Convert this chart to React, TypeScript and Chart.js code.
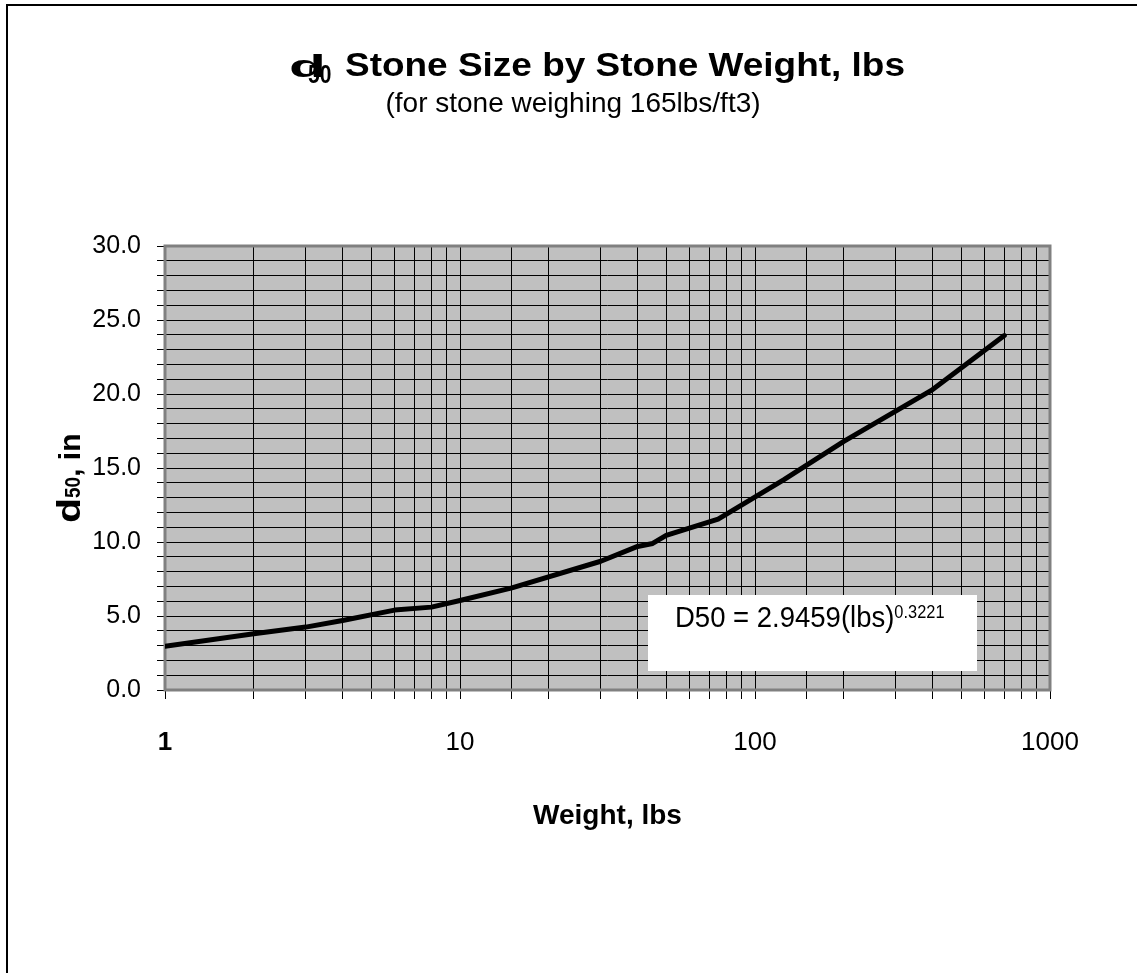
import React, { useEffect, useRef } from "react";
import { Chart, registerables } from "chart.js";

Chart.register(...registerables);

const weights: number[] = [1, 2, 3, 4, 6, 8, 10, 15, 30, 40, 45, 50, 75, 125, 200, 400, 700];
const d50Values: number[] = [2.95, 3.8, 4.25, 4.7, 5.4, 5.6, 6.05, 6.9, 8.7, 9.7, 9.9, 10.45, 11.55, 14.2, 16.8, 20.3, 23.95];
const xTickLabels: number[] = [1, 10, 100, 1000];
const yLabelEvery = 5;

const titleMain = "Stone Size by Stone Weight, lbs";
const subtitle = "(for stone weighing 165lbs/ft3)";
const xTitle = "Weight, lbs";
const equationText = "D50 = 2.9459(lbs)";
const equationExp = "0.3221";

const FONT = "'Liberation Sans', Arial, sans-serif";

function scaledText(ctx: CanvasRenderingContext2D, text: string, font: string, x: number, y: number, sx: number, sy: number) {
  ctx.save();
  ctx.font = font;
  ctx.translate(x, y);
  ctx.scale(sx, sy);
  ctx.fillText(text, 0, 0);
  ctx.restore();
  return ctx.measureText(text).width * sx;
}

const decorPlugin = {
  id: "decor",
  beforeDraw(chart: any) {
    const { ctx, chartArea } = chart;
    ctx.save();
    ctx.fillStyle = "#ffffff";
    ctx.fillRect(0, 0, chart.width, chart.height);
    ctx.strokeStyle = "#000";
    ctx.lineWidth = 2;
    ctx.strokeRect(7, 5, 2000, 2000);
    ctx.fillStyle = "#C0C0C0";
    ctx.fillRect(chartArea.left, chartArea.top, chartArea.right - chartArea.left, chartArea.bottom - chartArea.top);
    ctx.restore();
  },
  beforeDatasetsDraw(chart: any) {
    const { ctx, chartArea } = chart;
    ctx.save();
    ctx.strokeStyle = "#808080";
    ctx.lineWidth = 3;
    ctx.strokeRect(chartArea.left, chartArea.top, chartArea.right - chartArea.left, chartArea.bottom - chartArea.top);
    ctx.restore();
  },
  afterDraw(chart: any) {
    const { ctx, chartArea } = chart;
    ctx.save();
    ctx.fillStyle = "#000";
    ctx.textBaseline = "alphabetic";
    ctx.textAlign = "left";

    // main title: big "d", subscript "50", rest
    ctx.font = `bold 31px ${FONT}`;
    const dW = ctx.measureText("d").width;
    scaledText(ctx, "d", `bold 31px ${FONT}`, 289, 77, 37 / dW, 1);
    scaledText(ctx, "50", `bold 21px ${FONT}`, 308, 83, 1, 1.25);
    ctx.font = `bold 37px ${FONT}`;
    const tw = ctx.measureText(titleMain).width;
    scaledText(ctx, titleMain, `bold 37px ${FONT}`, 345, 76, 560 / tw, 0.92);

    // subtitle
    ctx.textAlign = "center";
    ctx.font = `28px ${FONT}`;
    ctx.fillText(subtitle, 573, 112);

    // x title
    ctx.font = `bold 28px ${FONT}`;
    ctx.fillText(xTitle, (chartArea.left + chartArea.right) / 2, 824);
    ctx.textAlign = "left";

    // y title rotated
    ctx.save();
    ctx.translate(80, 523);
    ctx.rotate(-Math.PI / 2);
    let px = 0;
    ctx.font = `bold 34px ${FONT}`;
    const yd = ctx.measureText("d").width;
    px += scaledText(ctx, "d", `bold 34px ${FONT}`, px, 0, 25 / yd, 1);
    ctx.font = `bold 19px ${FONT}`;
    px += scaledText(ctx, "50", `bold 19px ${FONT}`, px, 0, 1, 1.2);
    ctx.font = `bold 30px ${FONT}`;
    scaledText(ctx, ", in", `bold 30px ${FONT}`, px, 0, 1, 1);
    ctx.restore();

    // equation box
    ctx.fillStyle = "#ffffff";
    ctx.fillRect(648, 595, 329, 76);
    ctx.fillStyle = "#000";
    ctx.font = `27.5px ${FONT}`;
    const w1 = ctx.measureText(equationText).width;
    scaledText(ctx, equationText, `27.5px ${FONT}`, 675, 627, 1, 1.1);
    scaledText(ctx, equationExp, `16.4px ${FONT}`, 675 + w1, 618, 1, 1.1);
    ctx.restore();
  },
};

function isPow10(v: number) {
  const l = Math.log10(v);
  return Math.abs(l - Math.round(l)) < 1e-9;
}

export default function App() {
  const ref = useRef<HTMLCanvasElement | null>(null);
  useEffect(() => {
    if (!ref.current) return;
    const points = weights.map((w, i) => ({ x: w, y: d50Values[i] }));
    const chart = new Chart(ref.current, {
      type: "line",
      data: {
        datasets: [
          {
            data: points,
            borderColor: "#000",
            borderWidth: 5,
            pointRadius: 0,
            tension: 0,
            fill: false,
            borderCapStyle: "round",
            borderJoinStyle: "round",
          },
        ],
      },
      options: {
        animation: false,
        responsive: false,
        events: [],
        layout: { padding: { left: 0, right: 87, top: 246, bottom: 0 } },
        plugins: { legend: { display: false }, title: { display: false }, tooltip: { enabled: false } },
        scales: {
          x: {
            type: "logarithmic",
            min: 1,
            max: 1000,
            afterFit: (s: any) => {
              s.height = 283;
            },
            grid: { color: "#000", lineWidth: 1, tickLength: 9, tickColor: "#000" },
            border: { display: false },
            ticks: {
              autoSkip: false,
              maxRotation: 0,
              color: "#000",
              padding: 28,
              font: (c: any) => ({ family: FONT, size: 26, weight: c.tick && c.tick.value === 1 ? "bold" : "normal" }),
              callback: (v: any) => {
                const n = Number(v);
                return isPow10(n) && xTickLabels.includes(Math.round(n)) ? String(Math.round(n)) : "";
              },
            },
          },
          y: {
            min: 0,
            max: 30,
            afterFit: (s: any) => {
              s.width = 165;
            },
            grid: { color: "#000", lineWidth: 1, tickLength: 8, tickColor: "#000" },
            border: { display: false },
            ticks: {
              stepSize: 1,
              autoSkip: false,
              color: "#000",
              padding: 16,
              font: { family: FONT, size: 25 },
              callback: (v: any) => {
                const n = Number(v);
                return Math.round(n) % yLabelEvery === 0 ? n.toFixed(1) : "";
              },
            },
          },
        },
      },
      plugins: [decorPlugin],
    } as any);
    return () => chart.destroy();
  }, []);
  return (
    <div style={{ position: "absolute", left: 0, top: 0, width: 1137, height: 973, overflow: "hidden" }}>
      <canvas ref={ref} width={1137} height={973} style={{ display: "block", width: 1137, height: 973 }} />
    </div>
  );
}
